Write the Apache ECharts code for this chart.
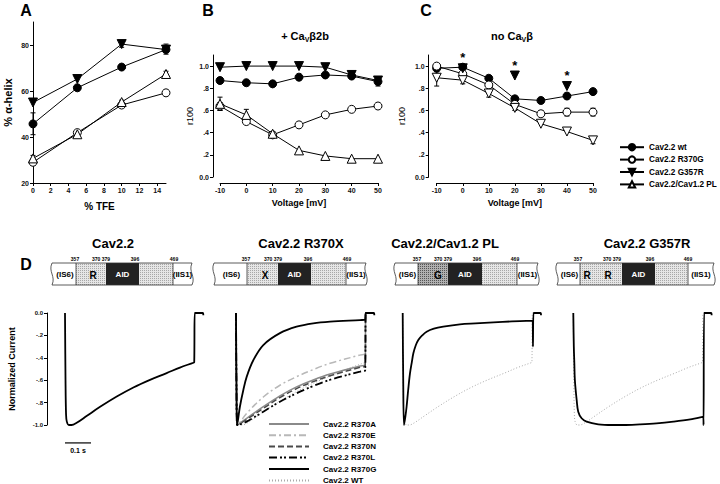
<!DOCTYPE html>
<html><head><meta charset="utf-8">
<script src="https://cdn.jsdelivr.net/npm/echarts@6/dist/echarts.min.js"></script>
<style>html,body{margin:0;padding:0;background:#fff}#c{width:720px;height:484px}</style>
</head><body><div id="c"></div>
<script>
const FONT = '"Liberation Sans", Arial, Helvetica, sans-serif';

// ---------- Panel A : % alpha-helix vs % TFE ----------
const tfe = [0, 5, 10, 15];
const A_wt    = [45.7, 61.4, 70.4, 78.0];
const A_r370g = [29.0, 41.9, 53.9, 59.2];
const A_g357r = [55.0, 65.2, 80.4, 78.0];
const A_pl    = [30.7, 41.2, 55.2, 67.4];
const A_err   = [[0, 41, 50.5], [10, 79, 81.6], [15, 76, 80.4], [15, 66.4, 68.6], [10, 52.9, 56.0], [0, 27.8, 32.0]];
const A_xticks = [0, 2, 4, 6, 8, 10, 12, 14];
const A_yticks = [20, 40, 60, 80];

// ---------- Panel B : + CaVb2b ----------
const volt = [-10, 0, 10, 20, 30, 40, 50];
const B_wt    = [0.87, 0.85, 0.84, 0.90, 0.92, 0.91, 0.86];
const B_r370g = [0.64, 0.50, 0.38, 0.47, 0.56, 0.61, 0.64];
const B_g357r = [0.99, 1.00, 1.00, 1.00, 0.99, 0.92, 0.87];
const B_pl    = [0.66, 0.56, 0.39, 0.24, 0.19, 0.165, 0.165];
const B_err   = [[-10, 0.60, 0.72], [-10, 0.60, 0.67], [0, 0.52, 0.61], [10, 0.36, 0.41], [40, 0.90, 0.94], [50, 0.82, 0.90]];

// ---------- Panel C : no CaVb ----------
const C_wt    = [0.98, 0.99, 0.89, 0.705, 0.69, 0.73, 0.77];
const C_r370g = [1.00, 0.93, 0.83, 0.655, 0.57, 0.585, 0.585];
const C_g357r_v = [0, 20, 40];
const C_g357r   = [0.98, 0.915, 0.82];
const C_pl    = [0.895, 0.873, 0.753, 0.623, 0.48, 0.41, 0.33];
const C_err   = [[-10, 0.82, 0.95], [0, 0.84, 0.90], [10, 0.72, 0.78], [20, 0.60, 0.64], [30, 0.55, 0.60], [40, 0.55, 0.62], [50, 0.55, 0.62], [50, 0.30, 0.36]];
const BC_xticks = [-10, 0, 10, 20, 30, 40, 50];
const BC_yticks = [0, 0.2, 0.4, 0.6, 0.8, 1.0];

const legendNames = ['Cav2.2 wt', 'Cav2.2 R370G', 'Cav2.2 G357R', 'Cav2.2/Cav1.2 PL'];
const traceLegendNames = ['Cav2.2 R370A', 'Cav2.2 R370E', 'Cav2.2 R370N', 'Cav2.2 R370L', 'Cav2.2 R370G', 'Cav2.2 WT'];

// ---------- Panel D : normalized current traces [time s, current] ----------
const trace_wt = [[0,0],[0.002,-0.6],[0.004,-0.9],[0.007,-0.97],[0.015,-1.0],[0.025,-1.0],[0.045,-0.98],[0.083,-0.92],[0.135,-0.838],[0.199,-0.746],[0.263,-0.665],[0.327,-0.597],[0.391,-0.537],[0.442,-0.487],[0.494,-0.444],[0.497,-0.44],[0.499,0],[0.53,0],[0.532,-0.02]];
const trace_r370a = [[0,0],[0.002,-0.7],[0.004,-1.0],[0.015,-0.985],[0.041,-0.94],[0.105,-0.837],[0.169,-0.74],[0.233,-0.66],[0.297,-0.598],[0.362,-0.545],[0.477,-0.473],[0.497,-0.46],[0.499,0],[0.53,0]];
const trace_r370e = [[0,0],[0.002,-0.7],[0.004,-1.0],[0.015,-0.975],[0.041,-0.896],[0.105,-0.75],[0.169,-0.645],[0.233,-0.569],[0.297,-0.505],[0.362,-0.449],[0.477,-0.375],[0.497,-0.36],[0.499,0],[0.53,0]];
const trace_r370n = [[0,0],[0.002,-0.7],[0.004,-1.0],[0.015,-0.99],[0.041,-0.95],[0.105,-0.852],[0.169,-0.755],[0.233,-0.675],[0.297,-0.613],[0.362,-0.56],[0.477,-0.485],[0.497,-0.47],[0.499,0],[0.53,0]];
const trace_r370l = [[0,0],[0.002,-0.7],[0.004,-1.0],[0.015,-0.995],[0.041,-0.97],[0.105,-0.881],[0.169,-0.792],[0.233,-0.717],[0.297,-0.652],[0.362,-0.596],[0.477,-0.524],[0.497,-0.51],[0.499,0],[0.53,0]];
const trace_r370g = [[0,0],[0.002,-0.7],[0.004,-1.0],[0.008,-0.95],[0.015,-0.837],[0.028,-0.69],[0.041,-0.57],[0.067,-0.42],[0.105,-0.286],[0.169,-0.18],[0.233,-0.122],[0.297,-0.092],[0.362,-0.077],[0.477,-0.063],[0.497,-0.06],[0.499,0],[0.53,0],[0.532,-0.02]];
const trace_pl = [[0,0],[0.002,-0.6],[0.005,-1.0],[0.01,-0.93],[0.015,-0.837],[0.021,-0.69],[0.028,-0.54],[0.035,-0.44],[0.041,-0.36],[0.05,-0.29],[0.06,-0.241],[0.075,-0.2],[0.092,-0.167],[0.12,-0.14],[0.156,-0.122],[0.22,-0.101],[0.28,-0.092],[0.349,-0.083],[0.42,-0.075],[0.5,-0.068],[0.501,-0.3],[0.503,0],[0.53,0],[0.532,-0.02]];
const trace_g357r = [[0,0],[0.002,-0.3],[0.004,-0.449],[0.006,-0.598],[0.013,-0.777],[0.019,-0.881],[0.032,-0.94],[0.051,-0.97],[0.096,-0.994],[0.15,-1.0],[0.192,-1.0],[0.256,-0.994],[0.32,-0.985],[0.385,-0.97],[0.45,-0.95],[0.5,-0.926],[0.501,-1.0],[0.503,0],[0.53,0],[0.532,-0.02]];
const trace_yticks = [-1.0, -0.8, -0.6, -0.4, -0.2, 0];
const scaleBar = [[0, -1.16], [0.1, -1.16]];

// ---------------------------------------------------------------
const chart = echarts.init(document.getElementById('c'), null, {renderer: 'svg', width: 720, height: 484});

const ST = {
  wt:    {symbol: 'circle', fill: '#000', rot: 0},
  r370g: {symbol: 'circle', fill: '#fff', rot: 0},
  g357r: {symbol: 'triangle', fill: '#000', rot: 180},
  pl:    {symbol: 'triangle', fill: '#fff', rot: 0},
  plDown:{symbol: 'triangle', fill: '#fff', rot: 180}
};
function pts(xs, ys) { return xs.map((x, i) => [x, ys[i]]); }
function mk(name, xs, ys, gi, st, extra) {
  return Object.assign({
    type: 'line', name, xAxisIndex: gi, yAxisIndex: gi, data: pts(xs, ys),
    symbol: st.symbol, symbolRotate: st.rot, symbolSize: st.symbol === 'triangle' ? 9 : 8,
    itemStyle: {color: st.fill, borderColor: '#000', borderWidth: 1},
    lineStyle: {color: '#000', width: 1}, z: 3, silent: true, animation: false
  }, extra || {});
}
function errSeries(gi, data) {
  return {
    type: 'custom', xAxisIndex: gi, yAxisIndex: gi, data, z: 1, silent: true,
    encode: {x: 0, y: [1, 2]},
    renderItem: (p, api) => {
      const x = api.value(0), a = api.coord([x, api.value(1)]), b = api.coord([x, api.value(2)]);
      const w = 2.5, s = {stroke: '#000', lineWidth: 1};
      return {type: 'group', children: [
        {type: 'line', shape: {x1: a[0], y1: a[1], x2: b[0], y2: b[1]}, style: s},
        {type: 'line', shape: {x1: a[0] - w, y1: a[1], x2: a[0] + w, y2: a[1]}, style: s},
        {type: 'line', shape: {x1: b[0] - w, y1: b[1], x2: b[0] + w, y2: b[1]}, style: s}
      ]};
    }
  };
}
function tr(name, data, gi, color, width, type, z) {
  return {type: 'line', name, xAxisIndex: gi, yAxisIndex: gi, data, symbol: 'none', showSymbol: false,
    smooth: 0.35, clip: false, silent: true,
    lineStyle: {color, width, type}, itemStyle: {color}, z: z || 2};
}
const lblStyle = {fontSize: 7, fontWeight: 'bold', color: '#111', fontFamily: FONT};
function vAxis(gi, min, max, ticks, fmt, extra) {
  return Object.assign({
    type: 'value', gridIndex: gi, min, max,
    axisLine: {show: true, onZero: false, lineStyle: {color: '#000', width: 1}},
    axisTick: {show: true, customValues: ticks, length: 3, lineStyle: {color: '#000', width: 1}},
    axisLabel: Object.assign({customValues: ticks, formatter: fmt, margin: 4}, lblStyle),
    splitLine: {show: false}
  }, extra || {});
}
const fmtBC = v => (Math.abs(v) < 1e-9 ? '0.0' : (Math.abs(v - 1) < 1e-9 ? '1.0' : String(+v.toFixed(1)).replace('0.', '.')));
const fmtTr = v => (Math.abs(v) < 1e-9 ? '0.0' : (Math.abs(v + 1) < 1e-9 ? '-1.0' : String(+v.toFixed(1)).replace('0.', '.')));
const nameStyle = (size, weight) => ({fontSize: size, fontWeight: weight, color: '#000', fontFamily: FONT});

// stipple patterns for the domain schematics
function pattern(bg, dot) {
  const c = document.createElement('canvas'); c.width = 2; c.height = 2;
  const g = c.getContext('2d'); g.fillStyle = bg; g.fillRect(0, 0, 2, 2);
  g.fillStyle = dot; g.fillRect(0, 0, 1, 1);
  return {image: c, repeat: 'repeat', imageWidth: 2, imageHeight: 2};
}
const PAT = {L: pattern('#e6e6e6', '#a8a8a8'), D: pattern('#b0b0b0', '#555555')};

const boxes = [
  {e: [52, 76, 106, 139, 173, 192], stip: 'L', txt: [['R', 93]], nums: [['357', 75], ['370 379', 101], ['396', 135], ['469', 174]]},
  {e: [214, 247, 278, 311, 346, 366], stip: 'L', txt: [['X', 265]], nums: [['357', 246], ['370 379', 273], ['396', 308], ['469', 347]]},
  {e: [395, 418, 448, 482, 517, 538], stip: 'D', txt: [['G', 438]], nums: [['357', 417], ['370 379', 443], ['396', 477], ['469', 515]]},
  {e: [557, 580, 622, 655, 688, 714], stip: 'L', txt: [['R', 587], ['R', 608]], nums: [['357', 578], ['370 379', 612], ['396', 650], ['469', 688]]}
];
const BT = 263, BB = 285, BM = 274;
function T(x, y, text, size, extra, st) {
  return Object.assign({type: 'text', x, y, silent: true, style: Object.assign({text, fill: '#000', fontSize: size, fontWeight: 'bold', fontFamily: FONT, align: 'center', verticalAlign: 'middle'}, st || {})}, extra || {});
}
const graphics = [];
boxes.forEach(b => {
  const e = b.e, ln = {stroke: '#333', lineWidth: 0.8};
  graphics.push({type: 'rect', shape: {x: e[0], y: BT, width: e[5] - e[0], height: BB - BT}, style: {fill: '#fff'}, silent: true});
  graphics.push({type: 'rect', shape: {x: e[1], y: BT, width: e[2] - e[1], height: BB - BT}, style: {fill: PAT[b.stip]}, silent: true});
  graphics.push({type: 'rect', shape: {x: e[3], y: BT, width: e[4] - e[3], height: BB - BT}, style: {fill: PAT.L}, silent: true});
  graphics.push({type: 'rect', shape: {x: e[2], y: BT, width: e[3] - e[2], height: BB - BT}, style: {fill: '#222'}, silent: true});
  graphics.push({type: 'line', shape: {x1: e[0], y1: BT, x2: e[5], y2: BT}, style: ln, silent: true});
  graphics.push({type: 'line', shape: {x1: e[0], y1: BB, x2: e[5], y2: BB}, style: ln, silent: true});
  [e[1], e[4]].forEach(x => graphics.push({type: 'line', shape: {x1: x, y1: BT, x2: x, y2: BB}, style: ln, silent: true}));
  [e[0], e[5]].forEach(x => graphics.push({type: 'bezierCurve', shape: {x1: x, y1: BT, x2: x, y2: BB, cpx1: x - 4, cpy1: BT + 9, cpx2: x + 4, cpy2: BB - 9}, style: Object.assign({fill: 'none'}, ln), silent: true}));
  graphics.push(T((e[0] + e[1]) / 2 + 1, BM, '(IS6)', 8));
  graphics.push(T((e[4] + e[5]) / 2, BM, '(IIS1)', 8));
  graphics.push(T((e[2] + e[3]) / 2, BM, 'AID', 8, null, {fill: '#fff'}));
  b.txt.forEach(t => graphics.push(T(t[1], BM + 1, t[0], 10)));
  b.nums.forEach(t => graphics.push(T(t[1], 259, t[0], 5)));
});
// panel letters and titles
graphics.push(T(26, 10, 'A', 16), T(208, 10, 'B', 16), T(426, 10, 'C', 16), T(26, 264, 'D', 16));
graphics.push(T(305, 36, '+ Ca{s|V}β2b', 11, null, {rich: {s: {fontSize: 7, fontWeight: 'bold', fontFamily: FONT, verticalAlign: 'bottom', lineHeight: 14}}}));
graphics.push(T(512, 36, 'no Ca{s|V}β', 11, null, {rich: {s: {fontSize: 7, fontWeight: 'bold', fontFamily: FONT, verticalAlign: 'bottom', lineHeight: 14}}}));
graphics.push(T(113, 243, 'Cav2.2', 13), T(301, 243, 'Cav2.2 R370X', 13), T(445, 243, 'Cav2.2/Cav1.2 PL', 13), T(647, 243, 'Cav2.2 G357R', 13));
graphics.push(T(78, 450, '0.1 s', 7));

const TW = 143; // 0..0.55 s
const legText = {fontSize: 8.2, fontWeight: 'bold', color: '#000', fontFamily: FONT};
const option = {
  animation: false,
  textStyle: {fontFamily: FONT},
  grid: [
    {left: 33, top: 22, width: 133, height: 161},
    {left: 220, top: 55, width: 158, height: 122},
    {left: 436.7, top: 55, width: 156.3, height: 122},
    {left: 65, top: 313, width: TW, height: 112},
    {left: 236, top: 313, width: TW, height: 112},
    {left: 402.7, top: 313, width: TW, height: 112},
    {left: 573.3, top: 313, width: TW, height: 112}
  ],
  xAxis: [
    vAxis(0, 0, 15, A_xticks, v => String(v), {name: '% TFE', nameLocation: 'middle', nameGap: 18, nameTextStyle: nameStyle(10, 'bold')}),
    vAxis(1, -10, 50, BC_xticks, v => String(v), {offset: 6, name: 'Voltage [mV]', nameLocation: 'middle', nameGap: 15, nameTextStyle: nameStyle(9, 'bold')}),
    vAxis(2, -10, 50, BC_xticks, v => String(v), {offset: 6, name: 'Voltage [mV]', nameLocation: 'middle', nameGap: 15, nameTextStyle: nameStyle(9, 'bold')}),
    {type: 'value', gridIndex: 3, min: 0, max: 0.55, show: false},
    {type: 'value', gridIndex: 4, min: 0, max: 0.55, show: false},
    {type: 'value', gridIndex: 5, min: 0, max: 0.55, show: false},
    {type: 'value', gridIndex: 6, min: 0, max: 0.55, show: false}
  ],
  yAxis: [
    vAxis(0, 20, 90, A_yticks, v => String(v), {name: '% α-helix', nameLocation: 'middle', nameRotate: 90, nameGap: 20, nameTextStyle: nameStyle(11, 'bold')}),
    vAxis(1, 0, 1.1, BC_yticks, fmtBC, {offset: 7, name: 'r100', nameLocation: 'middle', nameRotate: 90, nameGap: 19, nameTextStyle: nameStyle(9, 'normal')}),
    vAxis(2, 0, 1.1, BC_yticks, fmtBC, {offset: 8, name: 'r100', nameLocation: 'middle', nameRotate: 90, nameGap: 22, nameTextStyle: nameStyle(9, 'normal')}),
    vAxis(3, -1, 0, trace_yticks, fmtTr, {offset: 18, name: 'Normalized Current', nameLocation: 'middle', nameRotate: 90, nameGap: 31, nameTextStyle: nameStyle(9, 'bold'), axisLabel: Object.assign({customValues: trace_yticks, formatter: fmtTr, margin: 4}, lblStyle, {fontSize: 6})}),
    {type: 'value', gridIndex: 4, min: -1, max: 0, show: false},
    {type: 'value', gridIndex: 5, min: -1, max: 0, show: false},
    {type: 'value', gridIndex: 6, min: -1, max: 0, show: false}
  ],
  legend: [
    {data: legendNames, orient: 'vertical', left: 619, top: 143, padding: 0, itemWidth: 24, itemHeight: 8, itemGap: 4,
     selectedMode: false, textStyle: legText},
    {data: traceLegendNames, orient: 'vertical', left: 268, top: 420, height: 80, padding: 0, itemWidth: 40, itemHeight: 8, itemGap: 3.2,
     selectedMode: false, itemStyle: {opacity: 0},
     textStyle: Object.assign({}, legText, {fontSize: 8, padding: [0, 0, 0, 9]})}
  ],
  series: [
    errSeries(0, A_err),
    mk('Cav2.2 wt', tfe, A_wt, 0, ST.wt),
    mk('Cav2.2 R370G', tfe, A_r370g, 0, ST.r370g),
    mk('Cav2.2 G357R', tfe, A_g357r, 0, ST.g357r),
    mk('Cav2.2/Cav1.2 PL', tfe, A_pl, 0, ST.pl),

    errSeries(1, B_err),
    mk('Cav2.2 wt', volt, B_wt, 1, ST.wt),
    mk('Cav2.2 R370G', volt, B_r370g, 1, ST.r370g),
    mk('Cav2.2 G357R', volt, B_g357r, 1, ST.g357r),
    mk('Cav2.2/Cav1.2 PL', volt, B_pl, 1, ST.pl),

    errSeries(2, C_err),
    mk('Cav2.2 wt', volt, C_wt, 2, ST.wt),
    mk('Cav2.2 R370G', volt, C_r370g, 2, ST.r370g),
    mk('Cav2.2/Cav1.2 PL', volt, C_pl, 2, ST.plDown),
    mk('Cav2.2 G357R', C_g357r_v, C_g357r, 2, ST.g357r, {
      lineStyle: {width: 0, opacity: 0}, z: 4,
      label: {show: true, position: 'top', formatter: '*', distance: -1, fontSize: 13, fontWeight: 'bold', color: '#000', fontFamily: FONT}
    }),

    tr('Cav2.2', trace_wt, 3, '#000', 1.8, 'solid', 3),
    {type: 'line', xAxisIndex: 3, yAxisIndex: 3, data: scaleBar, symbol: 'none', clip: false, silent: true, lineStyle: {color: '#000', width: 1.2}},

    tr('Cav2.2 WT', trace_wt, 4, '#aaaaaa', 1, [1, 2], 1),
    tr('Cav2.2 R370E', trace_r370e, 4, '#b8b8b8', 1.5, [7, 3, 2, 3], 2),
    tr('Cav2.2 R370A', trace_r370a, 4, '#8a8a8a', 1.5, 'solid', 2),
    tr('Cav2.2 R370N', trace_r370n, 4, '#4a4a4a', 1.5, [6, 3], 2),
    tr('Cav2.2 R370L', trace_r370l, 4, '#000', 1.8, [8, 3, 2, 2, 2, 3], 2),
    tr('Cav2.2 R370G', trace_r370g, 4, '#000', 1.8, 'solid', 3),

    tr('Cav2.2 WT', trace_wt, 5, '#aaaaaa', 1, [1, 2], 1),
    tr('Cav2.2/Cav1.2 PL trace', trace_pl, 5, '#000', 1.8, 'solid', 3),

    tr('Cav2.2 WT', trace_wt, 6, '#aaaaaa', 1, [1, 2], 1),
    tr('Cav2.2 G357R trace', trace_g357r, 6, '#000', 1.8, 'solid', 3)
  ],
  graphic: graphics
};
chart.setOption(option);
</script>
</body></html>
